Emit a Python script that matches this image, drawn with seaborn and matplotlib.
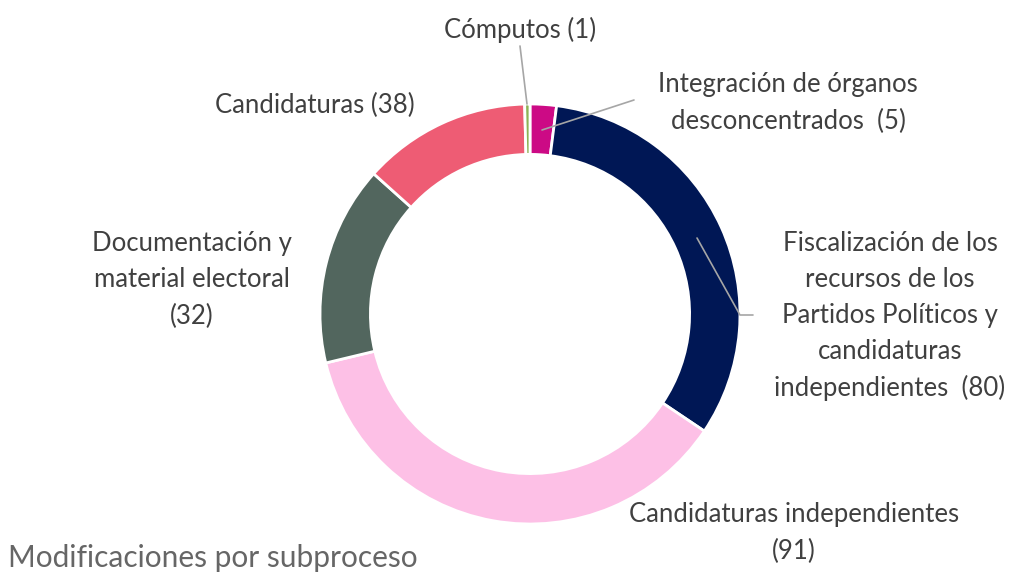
import numpy as np
import matplotlib
matplotlib.use("Agg")
import matplotlib.pyplot as plt
import seaborn as sns

# datos
etiquetas = ["Integración de órganos\ndesconcentrados  (5)",
             "Fiscalización de los\nrecursos de los\nPartidos Políticos y\ncandidaturas\nindependientes  (80)",
             "Candidaturas independientes\n(91)",
             "Documentación y\nmaterial electoral\n(32)",
             "Candidaturas (38)",
             "Cómputos (1)"]
# tamaño de los sectores tal como aparecen dibujados en el original
tamanos = [5, 80, 91, 38, 32, 1]
colores = ["#CC0A85", "#001755", "#FDC0E6", "#52665E", "#EE5C74", "#8DB255"]

sns.set_theme(style="white")
plt.rcParams['font.family'] = ['Lato', 'DejaVu Sans']

W, H = 1010, 573
cx, cy, R = 530, 314, 210

def px(x, y):
    return (x - cx) / R, (cy - y) / R

fig = plt.figure(figsize=(W / 100, H / 100), dpi=100)
ax = fig.add_axes([0, 0, 1, 1])
ax.pie(tamanos, colors=colores, startangle=90, counterclock=False,
       radius=1, wedgeprops=dict(width=0.24, edgecolor="white", linewidth=2))
ax.set_xlim(-cx / R, (W - cx) / R)
ax.set_ylim(-(H - cy) / R, cy / R)
ax.set_aspect("equal")
ax.axis("off")

gris = "#404040"
pos = [(788, 103), (890, 316), (794, 533), (192, 280), (315, 105), (520, 30)]
for txt, (x, y) in zip(etiquetas, pos):
    ax.text(*px(x, y), txt, ha="center", va="center", fontsize=18.5,
            color=gris, linespacing=1.55)

# lineas guia
lineas = [[(520, 46), (527, 104)],
          [(634, 100), (542, 130)],
          [(697, 238), (740, 315), (753, 315)]]
for ln in lineas:
    pts = np.array([px(x, y) for x, y in ln])
    ax.plot(pts[:, 0], pts[:, 1], color="#A6A6A6", lw=1.2)

ax.text(*px(8, 558), "Modificaciones por subproceso", ha="left", va="center",
        fontsize=21.5, color="#666666")

fig.savefig("out.png", dpi=100)
